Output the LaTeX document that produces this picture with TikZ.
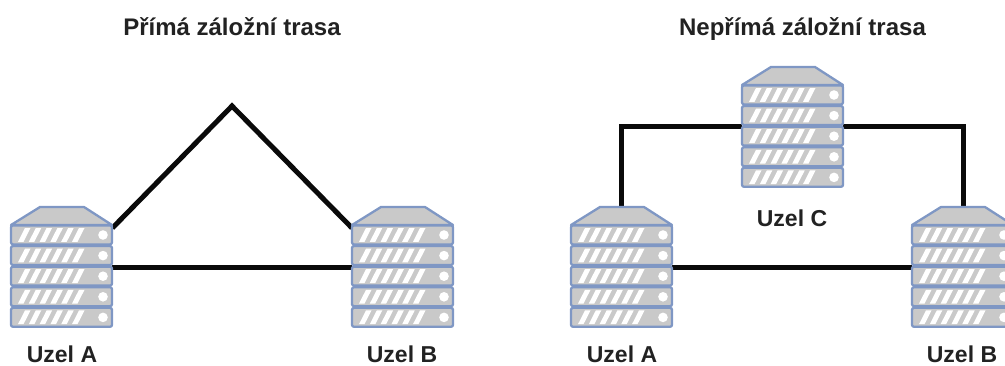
\documentclass[tikz,border=0pt]{standalone}
\usepackage{fontspec}
\setmainfont{Liberation Sans}
\definecolor{srvline}{HTML}{7F97C4}
\definecolor{srvfill}{HTML}{C9C9C9}
\definecolor{linkcol}{HTML}{0A0A0A}
\definecolor{txt}{HTML}{222222}
\tikzset{
  x=1pt,y=-1pt,
  srvbody/.style={draw=srvline,fill=srvfill,line width=2.3pt,line join=round},
  srvmark/.style={fill=white,draw=none},
  linkline/.style={draw=linkcol,line width=5pt,line join=miter},
  lbl/.style={font=\bfseries\fontsize{23}{26}\selectfont,text=txt,inner sep=0pt,anchor=base},
  ttl/.style={font=\bfseries\fontsize{24}{28}\selectfont,text=txt,inner sep=0pt,anchor=base},
  anchorbox/.style={minimum width=101pt,minimum height=103pt,inner sep=0pt,draw=none},
  pics/serverunit/.style={code={
    \path[srvbody] (0,0) -- (29,-18) -- (73,-18) -- (101,0) -- cycle;
    \foreach \k in {0,1,2,3,4}{
      \begin{scope}[yshift=-\k*20.6pt]
        \path[srvbody,rounded corners=2pt] (0,0.4) rectangle (101,19.4);
        \foreach \s in {0,1,2,3,4,5}{
          \path[srvmark] (7+\s*10.8,16.8) -- (12.5+\s*10.8,16.8) -- (19.5+\s*10.8,3) -- (14+\s*10.8,3) -- cycle;
        }
        \path[srvmark] (92,10) circle (4.8);
      \end{scope}
    }
  }}
}
\begin{document}
\begin{tikzpicture}
\useasboundingbox (0,0) rectangle (1005,365);
\clip (0,0) rectangle (1005,365);
% connector anchors: server boxes (drawn over the lines afterwards)
\node[anchorbox,anchor=north west] (A1) at (11,225) {};
\node[anchorbox,anchor=north west] (B1) at (352,225) {};
\node[anchorbox,anchor=north west] (A2) at (571,225) {};
\node[anchorbox,anchor=north west] (B2) at (912,225) {};
\node[anchorbox,anchor=north west] (C2) at (742,85) {};
\coordinate (peak) at (232,106);
\coordinate (leftcorner) at (621,126);
\coordinate (rightcorner) at (963,126);
% links
\draw[linkline] (A1.north east) ++(0,3) -- (peak) -- ([yshift=-3pt]B1.north west);
\draw[linkline] (A1.east |- 0,267) -- (B1.west |- 0,267);
\draw[linkline] (A2.east |- 0,267) -- (B2.west |- 0,267);
\draw[linkline] ([yshift=3pt]A2.north -| leftcorner) -- (leftcorner) -- (C2.west |- leftcorner);
\draw[linkline] (C2.east |- rightcorner) -- (rightcorner) -- ([yshift=3pt]B2.north -| rightcorner);
% servers
\pic at (11,225) {serverunit};
\pic at (352,225) {serverunit};
\pic at (571,225) {serverunit};
\pic at (912,225) {serverunit};
\pic at (742,85) {serverunit};
% labels
\node[ttl] (t1) at (232,35) {Přímá záložní trasa};
\node[ttl] (t2) at (802.5,35) {Nepřímá záložní trasa};
\node[lbl] (la1) at (62,362) {Uzel A};
\node[lbl] (lb1) at (402,362) {Uzel B};
\node[lbl] (la2) at (622,362) {Uzel A};
\node[lbl] (lb2) at (962,362) {Uzel B};
\node[lbl] (lc) at (792,226) {Uzel C};
\end{tikzpicture}
\end{document}
